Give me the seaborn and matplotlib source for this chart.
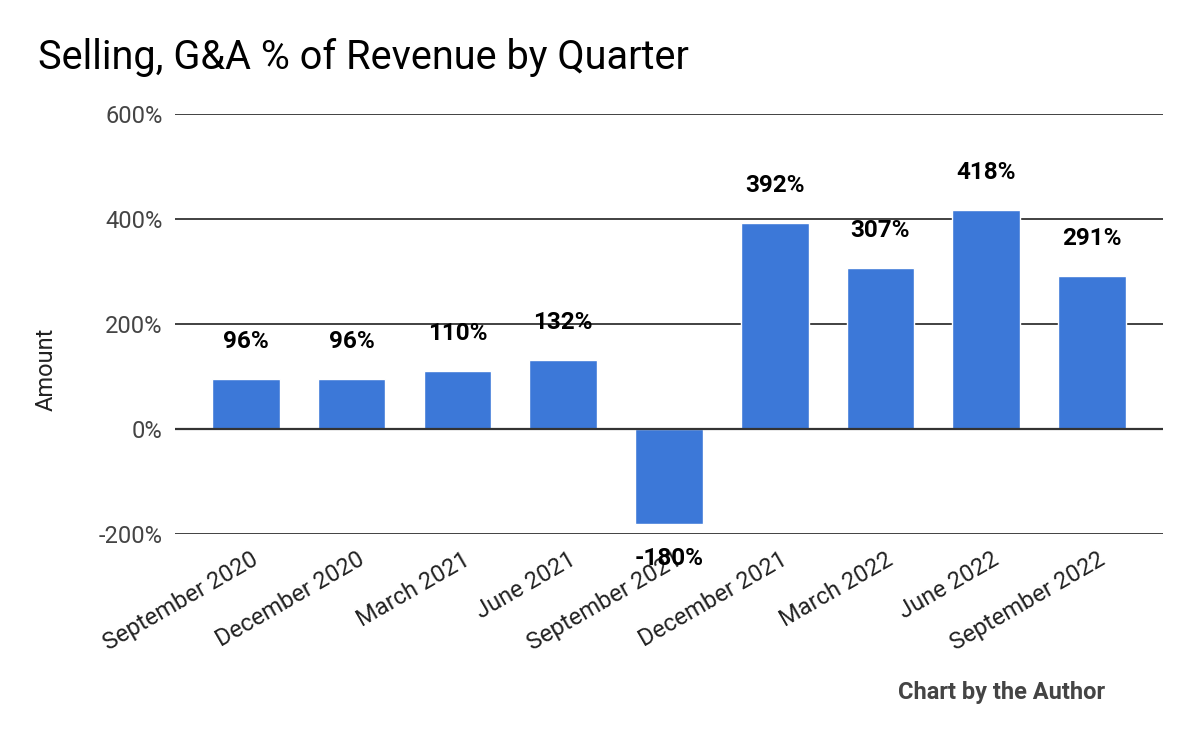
import pandas as pd
import seaborn as sns
import matplotlib.pyplot as plt
import matplotlib.transforms as mtransforms
from matplotlib.ticker import FuncFormatter

BAR_BLUE = "#3c78d8"
GRID_DARK = "#333333"
TEXT_GRAY = "#444444"

quarters = [
    "September 2020", "December 2020", "March 2021", "June 2021",
    "September 2021", "December 2021", "March 2022", "June 2022",
    "September 2022",
]
sga_pct = [96, 96, 110, 132, -180, 392, 307, 418, 291]

df = pd.DataFrame({"Quarter": quarters, "Pct": sga_pct})

sns.set_theme(style="white")
plt.rcParams["font.family"] = ["Roboto", "DejaVu Sans"]

fig = plt.figure(figsize=(12, 7.42), dpi=100)
ax = fig.add_axes([0.1458, 0.2803, 0.8233, 0.5661])

sns.barplot(x="Quarter", y="Pct", data=df, color=BAR_BLUE, width=0.64,
            saturation=1, ax=ax, zorder=3)

ax.set_ylim(-200, 600)
ax.set_yticks([-200, 0, 200, 400, 600])
ax.set_xlim(-0.67, len(quarters) - 1 + 0.67)
ax.yaxis.set_major_formatter(FuncFormatter(lambda v, _: f"{int(v)}%"))
ax.grid(axis="y", color=GRID_DARK, linewidth=1.3, zorder=0)
ax.axhline(0, color=GRID_DARK, linewidth=1.6, zorder=4)
for s in ax.spines.values():
    s.set_visible(False)

ax.tick_params(axis="both", length=0, labelsize=17, colors=TEXT_GRAY)
ax.tick_params(axis="y", pad=9)
ax.tick_params(axis="x", pad=10)
# nudge rotated labels a little to the right, like the original
shift = mtransforms.ScaledTranslation(5 / 100, 0, fig.dpi_scale_trans)
for lab in ax.get_xticklabels():
    lab.set_rotation(30)
    lab.set_ha("right")
    lab.set_rotation_mode("anchor")
    lab.set_color("#222222")
    lab.set_transform(lab.get_transform() + shift)
ax.set_xlabel("")
ax.set_ylabel("Amount", fontsize=17, color="#222222")
ax.yaxis.set_label_coords(58 / 1200, 373 / 742, transform=fig.transFigure)

# value labels
for i, v in enumerate(sga_pct):
    off = 27 if v >= 0 else -25
    ax.annotate(f"{v}%", (i, v), xytext=(0, off), textcoords="offset points",
                ha="center", va="center", fontsize=17.5, fontweight="bold",
                color="black", zorder=5)

fig.text(0.032, 0.922, "Selling, G&A % of Revenue by Quarter", fontsize=28.5,
         color="black", ha="left", va="center")
fig.text(0.921, 0.067, "Chart by the Author", fontsize=17, fontweight="bold",
         color=TEXT_GRAY, ha="right", va="center")

fig.savefig("out.png", dpi=100)
plt.close(fig)
